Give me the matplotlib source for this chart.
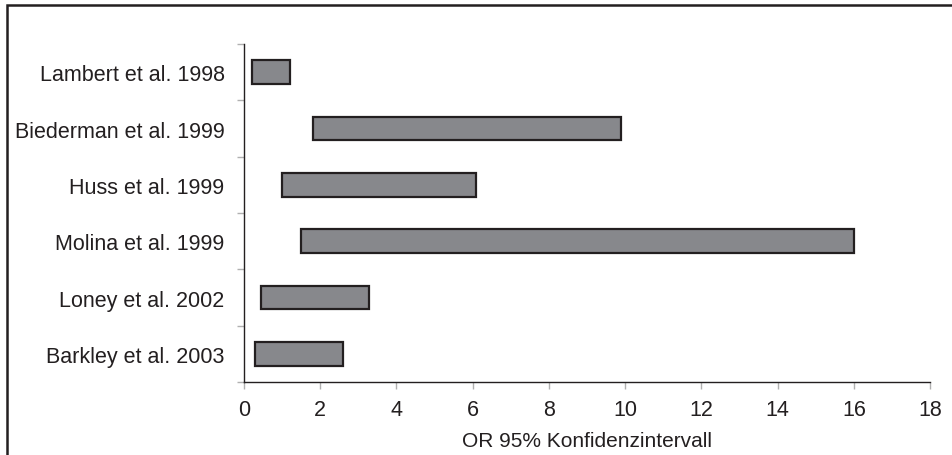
import numpy as np
import matplotlib.pyplot as plt
from matplotlib.patches import Rectangle

# studies, top to bottom
studies = ["Lambert et al. 1998", "Biederman et al. 1999", "Huss et al. 1999",
           "Molina et al. 1999", "Loney et al. 2002", "Barkley et al. 2003"]
ci_low = [0.2, 1.8, 1.0, 1.5, 0.45, 0.28]
ci_high = [1.22, 9.9, 6.1, 16.0, 3.27, 2.6]
xticks = [0, 2, 4, 6, 8, 10, 12, 14, 16, 18]

plt.rcParams['font.family'] = ['Liberation Sans', 'DejaVu Sans']

fig = plt.figure(figsize=(9.53, 4.56), dpi=100)
ax = fig.add_axes([0.256, 0.160, 0.720, 0.741])

n = len(studies)
ypos = n - 0.5 - np.arange(n)
ax.barh(ypos, np.array(ci_high) - np.array(ci_low), left=ci_low, height=0.42,
        color='#87888c', edgecolor='#231f20', linewidth=1.6)

ax.set_xlim(0, 18)
ax.set_ylim(0, n)
ax.set_xticks(xticks)
ax.set_yticks(ypos)
ax.set_yticklabels(studies)
ax.set_yticks(np.arange(n + 1), minor=True)

for s in ['top', 'right']:
    ax.spines[s].set_visible(False)
for s in ['left', 'bottom']:
    ax.spines[s].set_color('#231f20')
    ax.spines[s].set_linewidth(1.0)

ax.tick_params(axis='y', which='major', length=0, pad=14, labelsize=15.5, labelcolor='#231f20')
ax.tick_params(axis='y', which='minor', length=5, color='#b0b0b0', width=1)
ax.tick_params(axis='x', which='major', length=5, color='#b0b0b0', width=1, pad=7,
               labelsize=15.5, labelcolor='#231f20')
ax.set_xlabel('OR 95% Konfidenzintervall', fontsize=15, color='#231f20', labelpad=8)

# outer frame (only top and left edges visible in the reference)
fig.patches.append(Rectangle((7 / 953, -0.1), 1.2, 1.1 - 6 / 456, transform=fig.transFigure,
                             fill=False, edgecolor='#231f20', linewidth=1.8))

fig.savefig('out.png', dpi=100)
